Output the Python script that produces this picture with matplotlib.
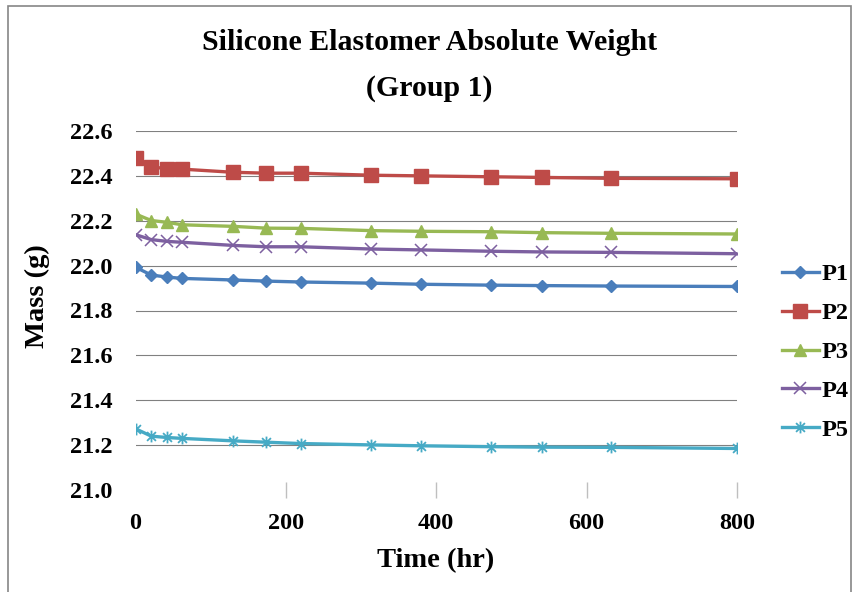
import matplotlib
matplotlib.use("Agg")
import matplotlib.pyplot as plt
from matplotlib.path import Path
from matplotlib.patches import Rectangle

# Elapsed time (hours) at each weighing
times = [0, 21, 42, 62, 130, 174, 220, 313, 380, 473, 541, 633, 800]

# Absolute mass (g) of each specimen
p1 = [21.993, 21.958, 21.949, 21.943, 21.936, 21.931, 21.927, 21.922, 21.917, 21.913, 21.911, 21.909, 21.907]
p2 = [22.478, 22.441, 22.431, 22.430, 22.416, 22.412, 22.412, 22.403, 22.400, 22.396, 22.393, 22.389, 22.387]
p3 = [22.230, 22.201, 22.193, 22.182, 22.175, 22.167, 22.166, 22.156, 22.153, 22.151, 22.147, 22.144, 22.141]
p4 = [22.138, 22.116, 22.108, 22.104, 22.090, 22.084, 22.084, 22.074, 22.070, 22.064, 22.061, 22.059, 22.053]
p5 = [21.273, 21.240, 21.234, 21.230, 21.219, 21.213, 21.207, 21.201, 21.197, 21.193, 21.191, 21.190, 21.185]

labels = ["P1", "P2", "P3", "P4", "P5"]
x_ticks = [0, 200, 400, 600, 800]
y_ticks = [21.0, 21.2, 21.4, 21.6, 21.8, 22.0, 22.2, 22.4, 22.6]

SERIF = ["Liberation Serif", "DejaVu Serif"]
plt.rcParams["font.family"] = SERIF
plt.rcParams["font.weight"] = "bold"

W, H = 859, 592
fig = plt.figure(figsize=(W / 100, H / 100), dpi=100)

# chart border
fig.patches.append(Rectangle((8 / W, -0.05), (851 - 8) / W, 1.05 - 6 / H,
                             transform=fig.transFigure, fill=False,
                             edgecolor="#868686", linewidth=1.2))

ax = fig.add_axes([135.5 / W, 1 - 490 / H, (737 - 135.5) / W, (490 - 131) / H])
ax.set_xlim(0, 800)
ax.set_ylim(21.0, 22.6)
for s in ax.spines.values():
    s.set_visible(False)

# horizontal gridlines (none on the baseline)
for yv in y_ticks[1:]:
    ax.axhline(yv, color="#808080", linewidth=0.8, zorder=1)

# asterisk marker: vertical stroke plus two diagonals
d = 0.75
star = Path([(0, -1), (0, 1), (-d, -d), (d, d), (-d, d), (d, -d)],
            [Path.MOVETO, Path.LINETO, Path.MOVETO, Path.LINETO, Path.MOVETO, Path.LINETO])

styles = [
    dict(color="#4A7EBB", marker="D", markersize=6.4),
    dict(color="#BE4B48", marker="s", markersize=9.5),
    dict(color="#98B954", marker="^", markersize=9),
    dict(color="#7D60A0", marker="x", markersize=8.5, markeredgewidth=1.1),
    dict(color="#46AAC5", marker=star, markersize=8.5, markeredgewidth=1.3),
]
for vals, lab, st in zip([p1, p2, p3, p4, p5], labels, styles):
    ax.plot(times, vals, linewidth=2.4, label=lab, zorder=3, **st)

ax.set_xticks(x_ticks)
ax.set_xticklabels([str(v) for v in x_ticks])
ax.set_yticks(y_ticks)
ax.set_yticklabels([f"{v:.1f}" for v in y_ticks])
ax.tick_params(axis="x", direction="inout", length=11.5, width=1.0,
               color="#BFBFBF", pad=10.5, labelsize=17.5)
ax.tick_params(axis="y", length=0, pad=16.5, labelsize=17.5)
ax.xaxis.get_major_ticks()[0].tick1line.set_visible(False)
for t in ax.get_xticklabels() + ax.get_yticklabels():
    t.set_fontweight("bold")

# titles and axis labels
fig.text(0.5, 1 - 50 / H, "Silicone Elastomer Absolute Weight", ha="center",
         va="baseline", fontsize=21.5, fontweight="bold")
fig.text(0.5, 1 - 96 / H, "(Group 1)", ha="center", va="baseline",
         fontsize=21.5, fontweight="bold")
fig.text(436 / W, 1 - 567 / H, "Time (hr)", ha="center", va="baseline",
         fontsize=20.5, fontweight="bold")
fig.text(37 / W, 1 - 296 / H, "Mass (g)", ha="center", va="center",
         rotation=90, fontsize=20.5, fontweight="bold")

ax.legend(loc="center left", bbox_to_anchor=(782 / W, 1 - 352 / H),
          bbox_transform=fig.transFigure, frameon=False, borderpad=0,
          borderaxespad=0, numpoints=1, handlelength=1.52, handletextpad=0.1,
          labelspacing=0.69, prop=dict(family=SERIF, weight="bold", size=17.5))

fig.savefig("out.png", dpi=100)
